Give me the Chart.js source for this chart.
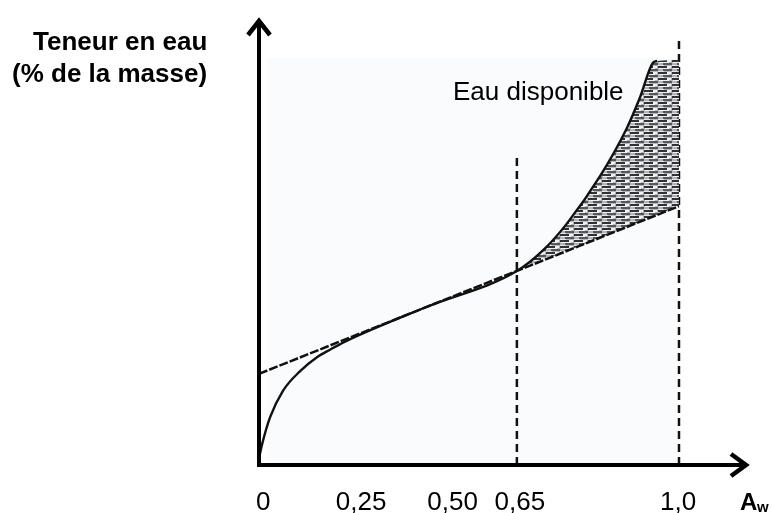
<!DOCTYPE html>
<html lang="fr">
<head>
<meta charset="UTF-8">
<title>Teneur en eau / Aw</title>
<script src="https://cdn.jsdelivr.net/npm/chart.js"></script>
<style>
  * { margin: 0; padding: 0; box-sizing: border-box; }
  body { background: #fff; }
  #wrap { width: 772px; height: 513px; }
</style>
</head>
<body>
<div id="wrap"><canvas id="isotherme"></canvas></div>
<script>
// x = Aw (position on the drawn axis), y = teneur en eau (arbitrary units 0-100)
const curveX = [0, 0.007, 0.026, 0.057, 0.098, 0.138, 0.169, 0.205, 0.4, 0.614, 0.676, 0.733, 0.812, 0.876, 0.907, 0.938, 0.948];
const curveY = [1.5, 4.5, 10.6, 16.6, 21.0, 24.1, 25.8, 27.6, 35.4, 43.4, 48.0, 54.0, 64.6, 75.4, 82.2, 90.0, 90.4];

const tangentX = [0, 1.0];
const tangentY = [20.4, 57.9];

// "Eau disponible" : upper edge of the hatched zone
const hatchX = [0.614, 0.676, 0.733, 0.812, 0.876, 0.907, 0.938, 0.948, 1.0];
const hatchY = [43.4, 48.0, 54.0, 64.6, 75.4, 82.2, 90.0, 90.4, 90.6];

// vertical dashed markers
const markX = [0.614, 1.0];
const markTop = [68.7, 95.7];

const tickPos = [0.01, 0.243, 0.461, 0.621, 0.998];
const tickLabels = ['0', '0,25', '0,50', '0,65', '1,0'];

function pts(xs, ys) {
    return xs.map((v, i) => ({ x: v, y: ys[i] }));
}

// scanned-looking horizontal hatching
function hatchPattern() {
    const c = document.createElement('canvas');
    c.width = 14; c.height = 6;
    const g = c.getContext('2d');
    g.fillStyle = '#b3b5b8';
    g.fillRect(0, 0, 14, 6);
    g.fillStyle = '#2f3134';
    g.fillRect(0, 0, 9, 2);
    g.fillStyle = '#f0f1f3';
    g.fillRect(9, 0, 4, 2);
    g.fillRect(1, 2, 10, 1);
    g.fillStyle = '#55575b';
    g.fillRect(5, 3, 9, 2);
    g.fillStyle = '#e4e6e8';
    g.fillRect(0, 5, 6, 1);
    return g.createPattern(c, 'repeat');
}

const markerSets = markX.map((mx, i) => ({
    data: [{ x: mx, y: 0 }, { x: mx, y: markTop[i] }],
    borderColor: '#111',
    borderWidth: 2.5,
    borderDash: [8, 5],
    pointRadius: 0,
    fill: false
}));

const axesArrows = {
    id: 'axesArrows',
    beforeDatasetsDraw(chart) {
        const { ctx, scales: { x, y } } = chart;
        // faint paper tint of the scanned figure
        ctx.save();
        ctx.fillStyle = '#f9fbfc';
        const l = x.getPixelForValue(0.02), t = y.getPixelForValue(91);
        ctx.fillRect(l, t, x.getPixelForValue(1.0) - l, y.getPixelForValue(0) - t);
        ctx.restore();
    },
    afterDatasetsDraw(chart) {
        const { ctx, chartArea, scales: { x, y } } = chart;
        const x0 = x.getPixelForValue(0), y0 = y.getPixelForValue(0);
        const right = chartArea.right - 2, top = chartArea.top + 3;
        ctx.save();
        ctx.strokeStyle = '#000';
        ctx.lineWidth = 4;
        ctx.beginPath();
        ctx.moveTo(x0 - 2, y0); ctx.lineTo(right - 1, y0);
        ctx.moveTo(x0, y0 + 2); ctx.lineTo(x0, top + 1);
        ctx.stroke();
        ctx.lineWidth = 4.5;
        ctx.lineJoin = 'miter';
        ctx.beginPath();
        ctx.moveTo(right - 15, y0 - 11); ctx.lineTo(right, y0); ctx.lineTo(right - 15, y0 + 11);
        ctx.moveTo(x0 - 11, top + 14); ctx.lineTo(x0, top); ctx.lineTo(x0 + 11, top + 14);
        ctx.stroke();

        // tick labels
        ctx.fillStyle = '#000';
        ctx.font = '26px "Liberation Sans", Arial, sans-serif';
        ctx.textAlign = 'center';
        ctx.textBaseline = 'alphabetic';
        tickPos.forEach((p, i) => ctx.fillText(tickLabels[i], x.getPixelForValue(p), 510));

        // Aw
        ctx.font = 'bold 24px "Liberation Sans", Arial, sans-serif';
        ctx.textAlign = 'left';
        ctx.fillText('A', 740, 510);
        ctx.font = 'bold 15px "Liberation Sans", Arial, sans-serif';
        ctx.fillText('w', 757, 512);

        // y axis title
        ctx.font = 'bold 26px "Liberation Sans", Arial, sans-serif';
        ctx.fillText('Teneur en eau', 33, 50);
        ctx.fillText('(% de la masse)', 12, 82);

        // zone label
        ctx.font = '26px "Liberation Sans", Arial, sans-serif';
        ctx.fillText('Eau disponible', 453, 100);
        ctx.restore();
    }
};

new Chart(document.getElementById('isotherme'), {
    type: 'line',
    data: {
        datasets: [
            {
                data: pts(tangentX, tangentY),
                borderColor: '#111',
                borderWidth: 2.5,
                borderDash: [9, 2],
                pointRadius: 0,
                fill: false
            },
            {
                data: pts(curveX, curveY),
                borderColor: '#111',
                borderWidth: 2.4,
                cubicInterpolationMode: 'monotone',
                pointRadius: 0,
                fill: false
            },
            {
                data: pts(hatchX, hatchY),
                borderWidth: 0,
                borderColor: 'rgba(0,0,0,0)',
                backgroundColor: hatchPattern(),
                cubicInterpolationMode: 'monotone',
                pointRadius: 0,
                fill: 0
            },
            ...markerSets
        ]
    },
    options: {
        responsive: true,
        maintainAspectRatio: false,
        animation: false,
        layout: { padding: { left: 259, right: 24, top: 18, bottom: 48 } },
        plugins: { legend: { display: false }, tooltip: { enabled: false } },
        scales: {
            x: { type: 'linear', min: 0, max: 1.1643, display: false },
            y: { min: 0, max: 100, display: false }
        }
    },
    plugins: [axesArrows]
});
</script>
</body>
</html>
